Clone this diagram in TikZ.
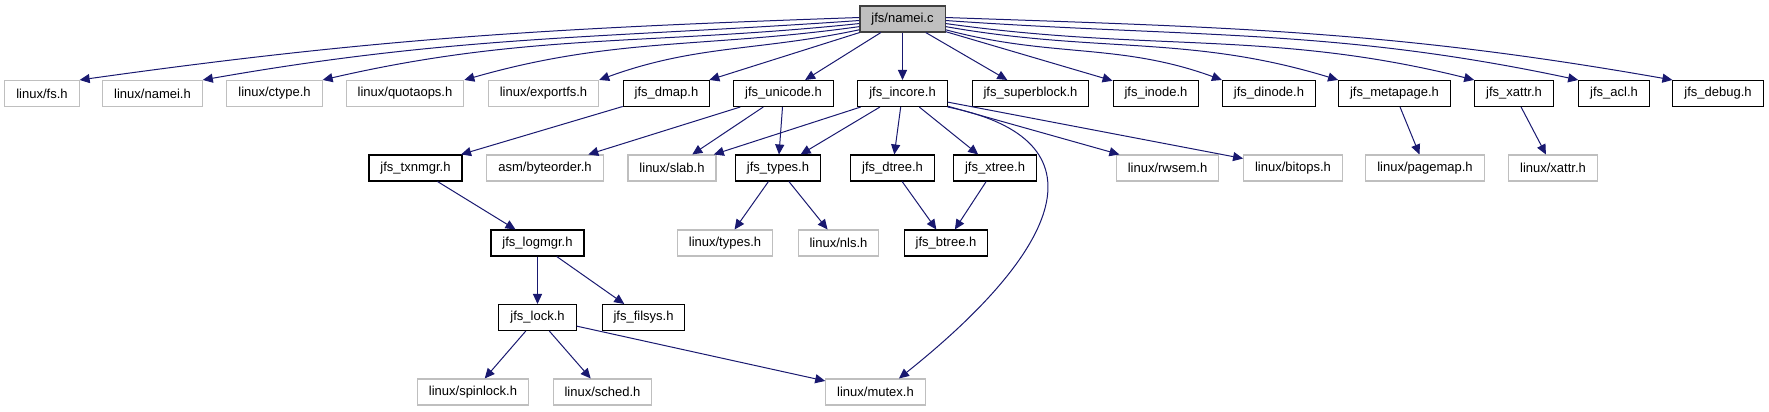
\documentclass[tikz,border=0pt]{standalone}
\usepackage{fontspec}
\setmainfont{Liberation Sans}
\usetikzlibrary{arrows.meta}
\definecolor{edgeblue}{HTML}{191970}
\definecolor{boxgrey}{HTML}{BFBFBF}
\tikzstyle{jfsfile} = [rectangle, draw=black, line width=0.8pt, minimum height=19.5pt, inner xsep=8.6pt, inner ysep=0pt, text centered, font=\fontsize{9.75}{11}\selectfont]
\tikzstyle{sysfile} = [jfsfile, draw=boxgrey]
\tikzstyle{rootfile} = [jfsfile, draw=black!75, fill=boxgrey]
\tikzstyle{arrow} = [draw=edgeblue, line width=0.75pt, -{Triangle[length=7.5pt,width=6.8pt]}]

\begin{document}
\begin{tikzpicture}[x=0.75pt, y=0.75pt]
    \useasboundingbox (0,0) rectangle (1769,-411);
    \node (namei) [rootfile] at (902.5,-19) {jfs/namei.c};
    % first row
    \node (fsh) [sysfile] at (42,-93.5) {linux/fs.h};
    \node (nameih) [sysfile] at (152.5,-93.5) {linux/namei.h};
    \node (ctype) [sysfile] at (274.5,-93.5) {linux/ctype.h};
    \node (quotaops) [sysfile] at (405,-93.5) {linux/quotaops.h};
    \node (exportfs) [sysfile] at (543.5,-93.5) {linux/exportfs.h};
    \node (dmap) [jfsfile] at (666.5,-93.5) {jfs\_dmap.h};
    \node (unicode) [jfsfile] at (783.5,-93.5) {jfs\_unicode.h};
    \node (incore) [jfsfile] at (902.5,-93.5) {jfs\_incore.h};
    \node (superblock) [jfsfile] at (1030.5,-93.5) {jfs\_superblock.h};
    \node (inode) [jfsfile] at (1156,-93.5) {jfs\_inode.h};
    \node (dinode) [jfsfile] at (1269,-93.5) {jfs\_dinode.h};
    \node (metapage) [jfsfile] at (1394.5,-93.5) {jfs\_metapage.h};
    \node (xattr) [jfsfile] at (1514,-93.5) {jfs\_xattr.h};
    \node (acl) [jfsfile] at (1614,-93.5) {jfs\_acl.h};
    \node (debug) [jfsfile] at (1718,-93.5) {jfs\_debug.h};
    % second row
    \node (txnmgr) [jfsfile] at (415.5,-168) {jfs\_txnmgr.h};
    \node (byteorder) [sysfile] at (545,-168) {asm/byteorder.h};
    \node (slab) [sysfile] at (672,-168) {linux/slab.h};
    \node (types) [jfsfile] at (778,-168) {jfs\_types.h};
    \node (dtree) [jfsfile] at (892.5,-168) {jfs\_dtree.h};
    \node (xtree) [jfsfile] at (995,-168) {jfs\_xtree.h};
    \node (rwsem) [sysfile] at (1167.5,-168) {linux/rwsem.h};
    \node (bitops) [sysfile] at (1293,-168) {linux/bitops.h};
    \node (pagemap) [sysfile] at (1425,-168) {linux/pagemap.h};
    \node (lxattr) [sysfile] at (1553,-168) {linux/xattr.h};
    % lower rows
    \node (logmgr) [jfsfile] at (537.5,-243) {jfs\_logmgr.h};
    \node (ltypes) [sysfile] at (725,-243) {linux/types.h};
    \node (nls) [sysfile] at (838.5,-243) {linux/nls.h};
    \node (btree) [jfsfile] at (946,-243) {jfs\_btree.h};
    \node (lock) [jfsfile] at (537.5,-317.5) {jfs\_lock.h};
    \node (filsys) [jfsfile] at (643.5,-317.5) {jfs\_filsys.h};
    \node (spinlock) [sysfile] at (473,-392) {linux/spinlock.h};
    \node (sched) [sysfile] at (602.5,-392) {linux/sched.h};
    \node (mutex) [sysfile] at (875.5,-392) {linux/mutex.h};

    \draw [arrow] (namei.178) to[out=182, in=8] (fsh.north east);
    \draw [arrow] (namei.182) to[out=184, in=10] (nameih.north east);
    \draw [arrow] (namei.186) to[out=186, in=13] (ctype.north east);
    \draw [arrow] (namei.190) to[out=188, in=16] (quotaops.north east);
    \draw [arrow] (namei.194) to[out=192, in=20] (exportfs.north east);
    \draw [arrow] (namei) -- (dmap);
    \draw [arrow] (namei) -- (unicode);
    \draw [arrow] (namei) -- (incore);
    \draw [arrow] (namei) -- (superblock);
    \draw [arrow] (namei) -- (inode);
    \draw [arrow] (namei.346) to[out=345, in=160] (dinode.north west);
    \draw [arrow] (namei.350) to[out=350, in=163] (metapage.north west);
    \draw [arrow] (namei.354) to[out=352, in=166] (xattr.north west);
    \draw [arrow] (namei.358) to[out=356, in=168] (acl.north west);
    \draw [arrow] (namei.2) to[out=358, in=170] (debug.north west);

    \draw [arrow] (dmap) -- (txnmgr);
    \draw [arrow] (unicode) -- (byteorder);
    \draw [arrow] (unicode) -- (slab);
    \draw [arrow] (unicode) -- (types);
    \draw [arrow] (incore) -- (slab);
    \draw [arrow] (incore) -- (types);
    \draw [arrow] (incore) -- (dtree);
    \draw [arrow] (incore) -- (xtree);
    \draw [arrow] (incore.south east) .. controls (1110,-140) and (1060,-250) .. (mutex.30);
    \draw [arrow] (incore) -- (rwsem);
    \draw [arrow] (incore) -- (bitops);
    \draw [arrow] (metapage) -- (pagemap);
    \draw [arrow] (xattr) -- (lxattr);

    \draw [arrow] (txnmgr) -- (logmgr);
    \draw [arrow] (types) -- (ltypes);
    \draw [arrow] (types) -- (nls);
    \draw [arrow] (dtree) -- (btree);
    \draw [arrow] (xtree) -- (btree);
    \draw [arrow] (logmgr) -- (lock);
    \draw [arrow] (logmgr) -- (filsys);
    \draw [arrow] (lock) -- (spinlock);
    \draw [arrow] (lock) -- (sched);
    \draw [arrow] (lock) -- (mutex);
\end{tikzpicture}
\end{document}
